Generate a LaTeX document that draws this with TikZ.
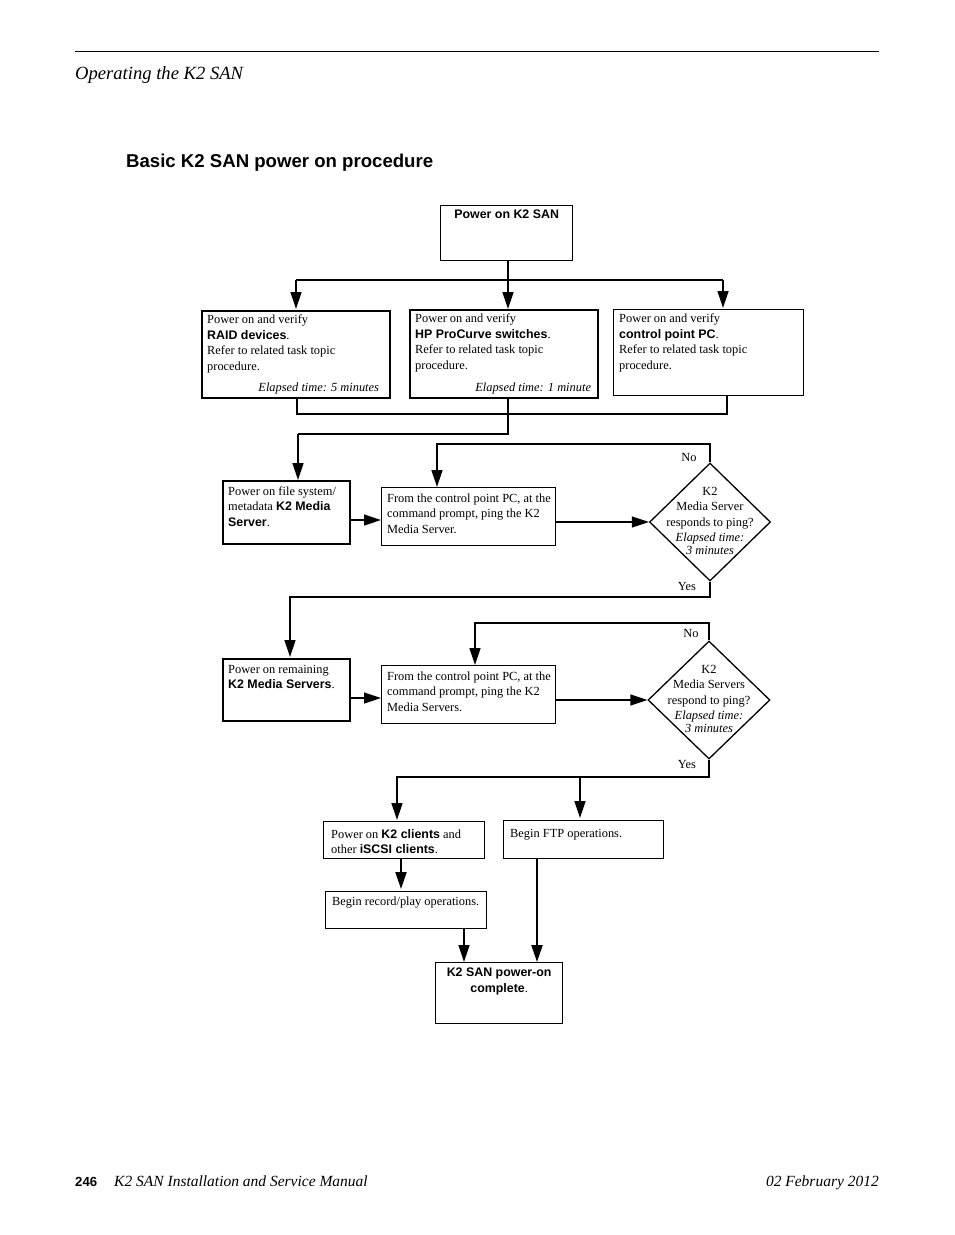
\documentclass[tikz,border=0pt]{standalone}
\usepackage{fontspec}
\setmainfont{Liberation Serif}
\setsansfont{Liberation Sans}
\usetikzlibrary{arrows.meta,shapes.geometric}
\newcommand\bsf[1]{{\sffamily\bfseries #1}}
\tikzset{
  box/.style={draw,line width=1.3pt,anchor=north west,inner sep=0pt},
  boldbox/.style={box,line width=2.2pt},
  txt/.style={anchor=north west,align=left,inner xsep=6pt,inner ysep=5pt,font=\fontsize{12.4}{15.5}\selectfont},
  ctxt/.style={anchor=north,align=center,inner ysep=5pt,font=\fontsize{12.4}{15.5}\selectfont},
  eltime/.style={anchor=south east,inner ysep=4.5pt,font=\fontsize{12.4}{15.5}\selectfont\itshape},
  lbl/.style={font=\fontsize{12.4}{15.5}\selectfont},
  ln/.style={line width=1.3pt},
  arr/.style={line width=1.3pt,-{Triangle[width=11pt,length=17pt]}},
  decision/.style={diamond,draw,line width=1.3pt,minimum width=121pt,minimum height=118pt,inner sep=0pt},
}
\begin{document}
\begin{tikzpicture}[x=1pt,y=-1pt]%K2 SAN power on
\useasboundingbox[fill=white] (0,0) rectangle (954,1235);
% page head and foot
\draw[line width=0.8pt] (75,51) -- (879,51);
\node[anchor=base west,inner sep=0pt,font=\fontsize{18.6}{20}\selectfont\itshape] (head) at (75,79) {Operating the K2 SAN};
\node[anchor=base west,inner sep=0pt,font=\fontsize{18.6}{20}\selectfont\sffamily\bfseries] (title) at (126,167.5) {Basic K2 SAN power on procedure};
\node[anchor=base west,inner sep=0pt,font=\fontsize{13.2}{15}\selectfont\sffamily\bfseries] (pageno) at (75,1186) {246};
\node[anchor=base west,inner sep=0pt,font=\fontsize{15.5}{17}\selectfont\itshape] (manual) at (114,1186) {K2 SAN Installation and Service Manual};
\node[anchor=base east,inner sep=0pt,font=\fontsize{15.5}{17}\selectfont\itshape] (date) at (879,1186) {02 February 2012};

% start
\node[box,minimum width=132pt,minimum height=55pt] (start) at (440,205) {};
\node[ctxt] (startt) at (start.north) {\bsf{Power on K2 SAN}};
\coordinate (split1) at (508,280);
\draw[ln] (508,260) -- (split1);
\draw[ln] (296,280) -- (723,280);

% first row
\node[boldbox,minimum width=188pt,minimum height=87pt] (raid) at (201,310) {};
\node[txt] (raidt) at (raid.north west) {Power on and verify\\ \bsf{RAID devices}.\\ Refer to related task topic\\ procedure.};
\node[eltime,inner xsep=12pt] (raide) at (raid.south east) {Elapsed time: 5 minutes};
\node[boldbox,minimum width=188pt,minimum height=88pt] (hp) at (409,309) {};
\node[txt] (hpt) at (hp.north west) {Power on and verify\\ \bsf{HP ProCurve switches}.\\ Refer to related task topic\\ procedure.};
\node[eltime,inner xsep=8pt] (hpe) at (hp.south east) {Elapsed time: 1 minute};
\node[box,minimum width=190pt,minimum height=86pt] (ctrl) at (613,309) {};
\node[txt] (ctrlt) at (ctrl.north west) {Power on and verify\\ \bsf{control point PC}.\\ Refer to related task topic\\ procedure.};
\draw[arr] (296,280) -- (296,309);
\draw[arr] (split1) -- (split1 |- hp.north);
\draw[arr] (723,280) -- (723,308);

\coordinate (join1) at (508,414);
\draw[ln] (297,397) -- (297,414) -- (727,414) -- (727,395);
\draw[ln] (508,397) -- (join1);
\coordinate (turn1) at (298,434);
\draw[ln] (join1) |- (turn1);

% second row
\node[boldbox,minimum width=127pt,minimum height=63pt] (fs) at (222,480) {};
\node[txt,inner ysep=6.5pt] (fst) at (fs.north west) {Power on file system/\\ metadata \bsf{K2 Media}\\ \bsf{Server}.};
\draw[arr] (turn1) -- (turn1 |- fs.north);
\node[box,minimum width=174pt,minimum height=58pt] (ping1) at (381,487) {};
\node[txt,inner ysep=6.5pt] (ping1t) at (ping1.north west) {From the control point PC, at the\\ command prompt, ping the K2\\ Media Server.};
\node[decision] (dia1) at (710,522) {};
\node[lbl,align=center] (dia1t) at (710,521) {K2\\ Media Server\\ responds to ping?\\ \textit{Elapsed time:}\\[-2.5pt] \textit{3 minutes}};
\draw[arr] (fs.east |- 0,520) -- (ping1.west |- 0,520);
\draw[arr] (ping1.east |- dia1.west) -- (dia1.west);
\coordinate (no1) at (437,444);
\draw[arr] (dia1.north) |- (no1) -- (no1 |- ping1.north);
\node[lbl] (no1t) at (689,457) {No};
\coordinate (yes1) at (290,597);
\draw[arr] (dia1.south) |- (yes1) -- (yes1 |- 0,657);
\node[lbl] (yes1t) at (687,586) {Yes};

% third row
\node[boldbox,minimum width=127pt,minimum height=62pt] (rem) at (222,658) {};
\node[txt,inner ysep=7pt] (remt) at (rem.north west) {Power on remaining\\ \bsf{K2 Media Servers}.};
\node[box,minimum width=174pt,minimum height=58pt] (ping2) at (381,665) {};
\node[txt,inner ysep=6.5pt] (ping2t) at (ping2.north west) {From the control point PC, at the\\ command prompt, ping the K2\\ Media Servers.};
\node[decision,minimum width=122pt] (dia2) at (709,700) {};
\node[lbl,align=center] (dia2t) at (709,699) {K2\\ Media Servers\\ respond to ping?\\ \textit{Elapsed time:}\\[-2.5pt] \textit{3 minutes}};
\draw[arr] (rem.east |- 0,698) -- (ping2.west |- 0,698);
\draw[arr] (ping2.east |- dia2.west) -- (dia2.west);
\coordinate (no2) at (475,623);
\draw[arr] (dia2.north) |- (no2) -- (no2 |- ping2.north);
\node[lbl] (no2t) at (691,633) {No};
\coordinate (yes2) at (397,777);
\coordinate (ftpin) at (580,777);
\draw[arr] (dia2.south) |- (yes2) -- (yes2 |- 0,820);
\draw[arr] (ftpin) -- (580,818);
\node[lbl] (yes2t) at (687,764) {Yes};

% last rows
\node[box,minimum width=161pt,minimum height=37pt] (clients) at (323,821) {};
\node[txt,inner xsep=8pt,inner ysep=8pt] (clientst) at (clients.north west) {Power on \bsf{K2 clients} and\\ other \bsf{iSCSI clients}.};
\node[box,minimum width=160pt,minimum height=38pt] (ftp) at (503,820) {};
\node[txt,inner xsep=7pt,inner ysep=9pt] (ftpt) at (ftp.north west) {Begin FTP operations.};
\node[box,minimum width=161pt,minimum height=37pt] (rec) at (325,891) {};
\node[txt,inner xsep=7pt,inner ysep=6pt] (rect) at (rec.north west) {Begin record/play operations.};
\node[box,minimum width=127pt,minimum height=61pt] (done) at (435,962) {};
\node[ctxt,inner ysep=6pt] (donet) at (done.north) {\bsf{K2 SAN power-on}\\ \bsf{complete}.};
\coordinate (clout) at (401,858);
\draw[arr,line width=2.2pt] (clout) -- (401,889);
\coordinate (recout) at (464,928);
\draw[arr] (recout) -- (recout |- done.north);
\coordinate (ftpout) at (537,858);
\draw[arr,line width=2.2pt] (ftpout) -- (ftpout |- done.north);
\end{tikzpicture}
\end{document}
